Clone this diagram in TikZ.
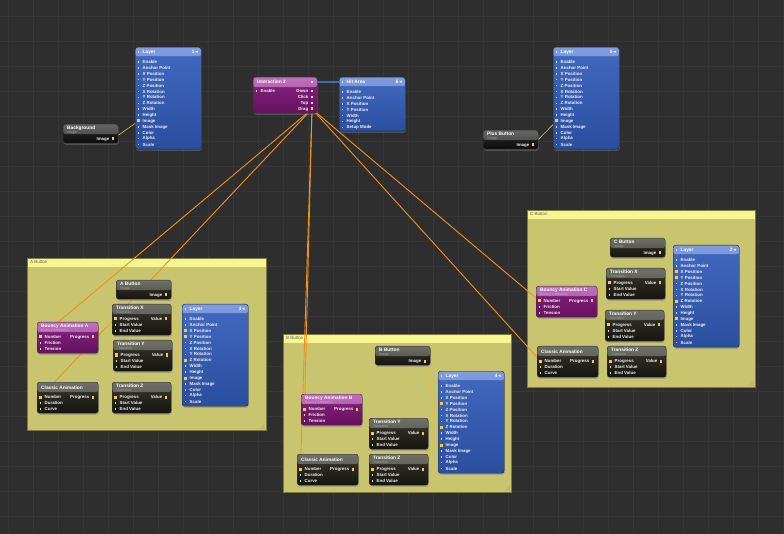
\documentclass[tikz,border=0pt]{standalone}
\usepackage{fontspec}
\setmainfont{Liberation Sans}
\newfontfamily\symfont{DejaVu Sans}
\usetikzlibrary{calc,shadows}

\definecolor{canvas}{HTML}{2E2E2E}
\definecolor{gridc}{HTML}{363636}
\definecolor{lyrA}{HTML}{4169BF}
\definecolor{lyrB}{HTML}{2B4E9E}
\definecolor{lyrhA}{HTML}{7E9CDD}
\definecolor{lyrhB}{HTML}{5A7ECA}
\definecolor{purA}{HTML}{85237F}
\definecolor{purB}{HTML}{66115F}
\definecolor{purhA}{HTML}{C071BD}
\definecolor{purhB}{HTML}{9A3D96}
\definecolor{darkA}{HTML}{38382F}
\definecolor{darkB}{HTML}{15150F}
\definecolor{darkhA}{HTML}{707068}
\definecolor{darkhB}{HTML}{47473E}
\definecolor{blkA}{HTML}{2A2A2A}
\definecolor{blkB}{HTML}{0C0C0C}
\definecolor{blkhA}{HTML}{666666}
\definecolor{blkhB}{HTML}{3B3B3B}
\definecolor{grpbody}{HTML}{C9C56F}
\definecolor{grphead}{HTML}{F7F58F}
\definecolor{grpline}{HTML}{7E7A42}
\definecolor{wireY}{HTML}{E9C23C}
\definecolor{wireO}{HTML}{F0911E}
\definecolor{wireB}{HTML}{3F6DAA}
\definecolor{hotc}{HTML}{F7CB35}
\definecolor{pinksub}{HTML}{E2A6DE}

\pgfdeclarelayer{bg}
\pgfdeclarelayer{wires}
\pgfsetlayers{bg,wires,main}

% input ports: node, x, first y, step, labels
\newcommand\inports[5]{%
  \foreach \p [count=\i] in {#5}{
    \node[mk] (#1-m\i) at (#2+3.5,#3+#4*\i-#4) {};
    \node[lbl] (#1-l\i) at (#2+7.5,#3+#4*\i-#4) {\p};
  }}
% output port: node, right edge, y, label, marker
\newcommand\outport[5]{%
  \node[lbl,anchor=east] (#1-ol) at (#2-8.5,#3) {#4};
  \node[#5] (#1-o) at (#2-5,#3) {};}
% blue patch: name, x, y, title, index, height, ports
\newcommand\bluepatch[7]{%
  \node[lyrbox,minimum height=#6pt] (#1) at (#2,#3) {};
  \node[mk] (#1-i) at (#2+3.5,#3+5) {};
  \node[ttl] (#1-t) at (#2+7.5,#3+5) {#4};
  \node[ttl,anchor=east] (#1-n) at (#2+63,#3+5) {#5\,{\symfont ◂}};
  \inports{#1}{#2}{#3+15}{5.9}{#7}}
\newcommand\layerpatch[4]{%
  \bluepatch{#1}{#2}{#3}{Layer}{#4}{102}{Enable,Anchor Point,X Position,Y Position,Z Position,X Rotation,Y Rotation,Z Rotation,Width,Height,Image,Mask Image,Color,Alpha,Scale}}
% image patch: name, x, y, title, box style
\newcommand\imgpatch[5]{%
  \node[#5,minimum width=55pt,minimum height=19pt] (#1) at (#2,#3) {};
  \node[ttl] (#1-t) at (#2+4,#3+4) {#4};
  \node[subt] (#1-s) at (#2+4,#3+8.3) {Image};
  \outport{#1}{#2+55}{#3+15}{Image}{hot}}
\newcommand\trpatch[4]{%
  \node[darkbox,minimum width=59pt,minimum height=31pt] (#1) at (#2,#3) {};
  \node[ttl] (#1-t) at (#2+4,#3+4) {#4};
  \node[subt] (#1-s) at (#2+4,#3+8.3) {Transition};
  \inports{#1}{#2}{#3+15}{6}{Progress,Start Value,End Value}
  \node[hot] (#1-in) at (#1-m1) {};
  \outport{#1}{#2+59}{#3+15}{Value}{hot}}
\newcommand\bouncy[4]{%
  \node[purbox,minimum width=61pt,minimum height=31pt] (#1) at (#2,#3) {};
  \node[ttl] (#1-t) at (#2+4,#3+4) {Bouncy Animation #4};
  \node[subt,text=pinksub] (#1-s) at (#2+4,#3+8.3) {Bouncy Animation};
  \inports{#1}{#2}{#3+15}{6}{Number,Friction,Tension}
  \node[hot] (#1-in) at (#1-m1) {};
  \outport{#1}{#2+61}{#3+15}{Progress}{hot}}
\newcommand\classic[3]{%
  \node[darkbox,minimum width=61pt,minimum height=31pt] (#1) at (#2,#3) {};
  \node[ttl] (#1-t) at (#2+4,#3+6) {Classic Animation};
  \inports{#1}{#2}{#3+15}{6}{Number,Duration,Curve}
  \node[hot] (#1-in) at (#1-m1) {};
  \outport{#1}{#2+61}{#3+15}{Progress}{hot}}
\newcommand\group[6]{%
  \node[grpbox,minimum width=#4pt,minimum height=#5pt] (#1) at (#2,#3) {};
  \node[gttl] (#1-t) at (#2+3,#3+4) {#6};
  \draw[grpline!70,line width=.3pt] ([shift={(-6,-1.5)}]#1.south east) -- ([shift={(-1.5,-6)}]#1.south east)
    ([shift={(-3.5,-1.5)}]#1.south east) -- ([shift={(-1.5,-3.5)}]#1.south east);}

\begin{document}
\begin{tikzpicture}[x=1pt,y=-1pt,
    head/.style n args={3}{path picture={\shade[top color=#1,bottom color=#2]
      (path picture bounding box.north west) rectangle ([yshift=-#3]path picture bounding box.north east);}},
    patch/.style={draw=black!80,line width=.4pt,rounded corners=2.5pt,anchor=north west,inner sep=0pt,
      drop shadow={opacity=.45,shadow xshift=.6pt,shadow yshift=-1.6pt}},
    lyrbox/.style={patch,draw=lyrB!45!black,top color=lyrA,bottom color=lyrB,head={lyrhA}{lyrhB}{9pt},minimum width=66pt},
    purbox/.style={patch,top color=purA,bottom color=purB,head={purhA}{purhB}{10pt}},
    darkbox/.style={patch,top color=darkA,bottom color=darkB,head={darkhA}{darkhB}{10pt}},
    blkbox/.style={patch,top color=blkA,bottom color=blkB,head={blkhA}{blkhB}{10pt}},
    grpbox/.style={draw=grpline,line width=.4pt,fill=grpbody,anchor=north west,inner sep=0pt,head={grphead}{grphead}{8pt}},
    ttl/.style={anchor=west,inner sep=0pt,text=white,font=\fontsize{4.8}{4.8}\selectfont\bfseries},
    subt/.style={anchor=west,inner sep=0pt,text=black!35,font=\fontsize{3.4}{3.4}\selectfont},
    lbl/.style={anchor=west,inner sep=0pt,text=white!95!black,font=\fontsize{4.4}{4.4}\selectfont\bfseries},
    gttl/.style={anchor=west,inner sep=0pt,text=black!60,font=\fontsize{4.5}{4.5}\selectfont},
    mk/.style={fill=white!85!black,inner sep=0pt,minimum size=1.5pt},
    hot/.style={fill=hotc,inner sep=0pt,minimum width=2.2pt,minimum height=3pt},
    yw/.style={wireY,line width=.6pt},
    ow/.style={wireO,line width=.9pt},
    bw/.style={wireB,line width=1.6pt}]
  \useasboundingbox (0,0) rectangle (784,534);
  \begin{pgfonlayer}{bg}
    \fill[canvas] (0,0) rectangle (784,534);
    \foreach \i in {0,...,31} \draw[gridc,line width=.5pt] (8.3+25*\i,0) -- (8.3+25*\i,534);
    \foreach \j in {0,...,21} \draw[gridc,line width=.5pt] (0,16.7+25*\j) -- (784,16.7+25*\j);
    \group{gA}{27}{258}{239}{172}{A Button}
    \group{gB}{283}{334}{228}{158}{B Button}
    \group{gC}{527}{210}{228}{177}{C Button}
  \end{pgfonlayer}

  % top row
  \layerpatch{L1}{135}{47}{1}
  \node[hot] (L1-h) at (L1-m11) {};
  \imgpatch{bgimg}{63}{124}{Background}{blkbox}
  \node[purbox,minimum width=64pt,minimum height=36pt] (int) at (253,77) {};
  \node[ttl] (int-t) at (257,82) {Interaction 2};
  \node[mk] (int-o) at (312,82) {};
  \inports{int}{253}{91}{6}{Enable}
  \foreach \p [count=\i] in {Down,Click,Top,Drag}{
    \node[lbl,anchor=east] (int-ol\i) at (308.5,85+6*\i) {\p};
    \node[mk] (int-o\i) at (312,85+6*\i) {};
  }
  \node[hot] (int-drag) at (int-o4) {};
  \bluepatch{hit}{339}{77}{Hit Area}{6}{54}{Enable,Anchor Point,X Position,Y Position,Width,Height,Setup Mode}
  \layerpatch{L5}{553}{47}{5}
  \node[hot] (L5-h) at (L5-m11) {};
  \imgpatch{plus}{483}{130}{Plus Button}{blkbox}

  % A Button
  \imgpatch{imgA}{116}{280}{A Button}{darkbox}
  \trpatch{TXa}{112}{304}{Transition X}
  \trpatch{TYa}{113}{340}{Transition Y}
  \trpatch{TZa}{112}{382}{Transition Z}
  \bouncy{BA}{37}{322}{A}
  \classic{CA}{37}{382}
  \layerpatch{L3}{182}{304}{3}
  \foreach \k in {3,4,8,11} \node[hot] (L3-h\k) at (L3-m\k) {};

  % B Button
  \imgpatch{imgB}{375}{346}{B Button}{darkbox}
  \layerpatch{L4}{438}{371}{4}
  \foreach \k in {4,8,11} \node[hot] (L4-h\k) at (L4-m\k) {};
  \bouncy{BB}{301}{394}{B}
  \trpatch{TYb}{369}{418}{Transition Y}
  \classic{CB}{297}{454}
  \trpatch{TZb}{369}{454}{Transition Z}

  % C Button
  \imgpatch{imgC}{610}{238}{C Button}{darkbox}
  \layerpatch{L2}{673}{245}{2}
  \foreach \k in {3,4,8,11} \node[hot] (L2-h\k) at (L2-m\k) {};
  \trpatch{TXc}{606}{268}{Transition X}
  \bouncy{BC}{536}{286}{C}
  \trpatch{TYc}{605}{310}{Transition Y}
  \classic{CC}{537}{346}
  \trpatch{TZc}{607}{346}{Transition Z}

  \begin{pgfonlayer}{wires}
    \draw[yw] (bgimg-o) -- (L1-h);
    \draw[yw] (plus-o) -- (L5-h);
    \draw[bw] (int-o) -- (hit-i);
    \foreach \t in {BA,CA,BB,CB,BC,CC} \draw[ow] (int-drag) -- (\t-in);
    % A
    \draw[yw] (BA-o) -- (TXa-in);
    \draw[yw] (BA-o) -- (TYa-in);
    \draw[yw] (CA-o) -- (TZa-in);
    \draw[yw] (TXa-o) -- (L3-h3);
    \draw[yw] (TYa-o) -- (L3-h4);
    \draw[yw] (TZa-o) -- (L3-h8);
    \draw[yw] (imgA-o) -- (L3-h11);
    % B
    \draw[yw] (BB-o) -- (TYb-in);
    \draw[yw] (CB-o) -- (TZb-in);
    \draw[yw] (TYb-o) -- (L4-h4);
    \draw[yw] (TZb-o) -- (L4-h8);
    \draw[yw] (imgB-o) -- (L4-h11);
    % C
    \draw[yw] (BC-o) -- (TXc-in);
    \draw[yw] (BC-o) -- (TYc-in);
    \draw[yw] (CC-o) -- (TZc-in);
    \draw[yw] (TXc-o) -- (L2-h3);
    \draw[yw] (TYc-o) -- (L2-h4);
    \draw[yw] (TZc-o) -- (L2-h8);
    \draw[yw] (imgC-o) -- (L2-h11);
  \end{pgfonlayer}
\end{tikzpicture}
\end{document}
